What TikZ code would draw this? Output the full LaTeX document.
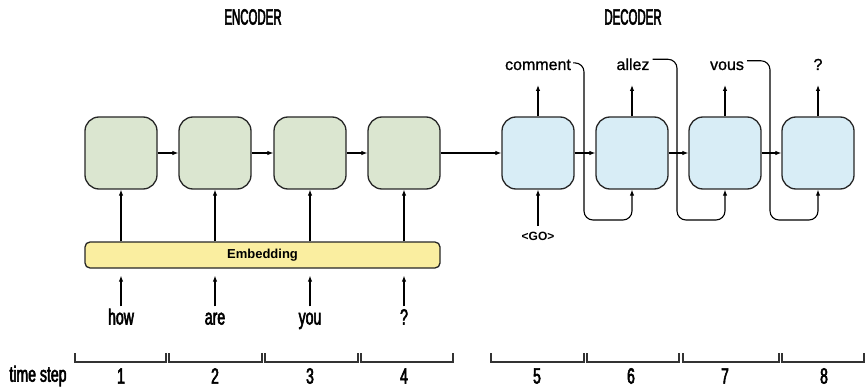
\documentclass[tikz,border=0pt]{standalone}
\usepackage{fontspec}
\setmainfont{Liberation Sans}
\newfontfamily\condfont[FakeStretch=0.64, FakeBold=2.5]{Liberation Sans}
\newfontfamily\capsfont[FakeStretch=0.52, FakeBold=2.5]{Liberation Sans}
\newfontfamily\outfont[FakeBold=1]{Liberation Sans}
\usetikzlibrary{arrows.meta}
\definecolor{encfill}{RGB}{219,230,208}
\definecolor{decfill}{RGB}{216,237,246}
\definecolor{embfill}{RGB}{250,238,160}

\begin{document}
\begin{tikzpicture}[
    x=1pt, y=-1pt,
    cell/.style={draw=black!85, line width=1.3pt, rounded corners=14pt,
        minimum width=72pt, minimum height=72pt, inner sep=0pt},
    enccell/.style={cell, fill=encfill},
    deccell/.style={cell, fill=decfill},
    title/.style={font=\capsfont\fontsize{22}{24}\selectfont},
    word/.style={font=\condfont\fontsize{22}{24}\selectfont, inner sep=0pt,
        text height=15pt, text depth=4pt},
    outword/.style={font=\outfont\fontsize{16}{18}\selectfont, inner sep=0pt, anchor=base},
    stepnum/.style={font=\condfont\fontsize{22}{24}\selectfont},
    arrow/.style={line width=1.1pt, -{Latex[length=6pt,width=4.5pt]}},
    feed/.style={line width=1.1pt, rounded corners=9pt, -{Latex[length=6pt,width=4.5pt]}},
    bracket/.style={line width=1.1pt, black!80}
]
    \useasboundingbox (0,0) rectangle (867,390);

    \node[title] (enctitle) at (253,17) {ENCODER};
    \node[title] (dectitle) at (633,17) {DECODER};

    \node[enccell] (e1) at (121,153) {};
    \node[enccell] (e2) at (215,153) {};
    \node[enccell] (e3) at (310,153) {};
    \node[enccell] (e4) at (404,153) {};
    \node[deccell] (d1) at (538,153) {};
    \node[deccell] (d2) at (632,153) {};
    \node[deccell] (d3) at (725,153) {};
    \node[deccell] (d4) at (818,153) {};

    \node[draw=black!85, line width=1.3pt, fill=embfill, rounded corners=5pt,
        minimum width=355pt, minimum height=26pt, inner sep=0pt,
        font=\bfseries\fontsize{13}{15}\selectfont] (emb) at (262.5,255) {Embedding};

    \node[word] (w1) at (121,319) {how};
    \node[word] (w2) at (215,319) {are};
    \node[word] (w3) at (310,319) {you};
    \node[word] (w4) at (404,319) {?};

    \node[outword] (o1) at (538,70) {comment};
    \node[outword] (o2) at (633,70) {allez};
    \node[outword] (o3) at (727,70) {vous};
    \node[outword] (o4) at (818,70) {?};

    \node[font=\bfseries\fontsize{12}{14}\selectfont] (go) at (538,236) {<GO>};

    \coordinate (turn1) at (584,220);
    \coordinate (turn2) at (677,220);
    \coordinate (turn3) at (770,220);

    \draw[arrow] (e1) -- (e2);
    \draw[arrow] (e2) -- (e3);
    \draw[arrow] (e3) -- (e4);
    \draw[arrow] (e4) -- (d1);
    \draw[arrow] (d1) -- (d2);
    \draw[arrow] (d2) -- (d3);
    \draw[arrow] (d3) -- (d4);

    \draw[arrow] (e1 |- emb.north) -- (e1.south);
    \draw[arrow] (e2 |- emb.north) -- (e2.south);
    \draw[arrow] (e3 |- emb.north) -- (e3.south);
    \draw[arrow] (e4 |- emb.north) -- (e4.south);

    \draw[arrow, shorten <=3pt, shorten >=7pt] (w1.north) -- (w1 |- emb.south);
    \draw[arrow, shorten <=3pt, shorten >=7pt] (w2.north) -- (w2 |- emb.south);
    \draw[arrow, shorten <=3pt, shorten >=7pt] (w3.north) -- (w3 |- emb.south);
    \draw[arrow, shorten <=3pt, shorten >=7pt] (w4.north) -- (w4 |- emb.south);

    \draw[arrow, shorten >=15pt] (d1.north) -- (d1.north |- o1.base);
    \draw[arrow, shorten >=15pt] (d2.north) -- (d2.north |- o2.base);
    \draw[arrow, shorten >=15pt] (d3.north) -- (d3.north |- o3.base);
    \draw[arrow, shorten >=15pt] (d4.north) -- (d4.north |- o4.base);

    \draw[arrow, shorten <=2pt] (go.north) -- (d1.south);

    \draw[feed] ([xshift=2pt,yshift=2pt]o1.east) -| (turn1) -| (d2.south);
    \draw[feed] ([xshift=3pt,yshift=5pt]o2.east) -| (turn2) -| (d3.south);
    \draw[feed] ([xshift=3pt,yshift=5pt]o3.east) -| (turn3) -| (d4.south);

    \foreach \a/\b in {75/166, 169/262, 265/358, 361/453,
        491/584, 587/679, 683/779, 782/864}
        \draw[bracket] (\a,353) -- (\a,362) -- (\b,362) -- (\b,353);

    \node[stepnum] (ts) at (38,376) {time step};
    \node[stepnum] (t1) at (121,376) {1};
    \node[stepnum] (t2) at (215,376) {2};
    \node[stepnum] (t3) at (310,376) {3};
    \node[stepnum] (t4) at (404,376) {4};
    \node[stepnum] (t5) at (537,376) {5};
    \node[stepnum] (t6) at (631,376) {6};
    \node[stepnum] (t7) at (725,376) {7};
    \node[stepnum] (t8) at (824,376) {8};
\end{tikzpicture}
\end{document}
